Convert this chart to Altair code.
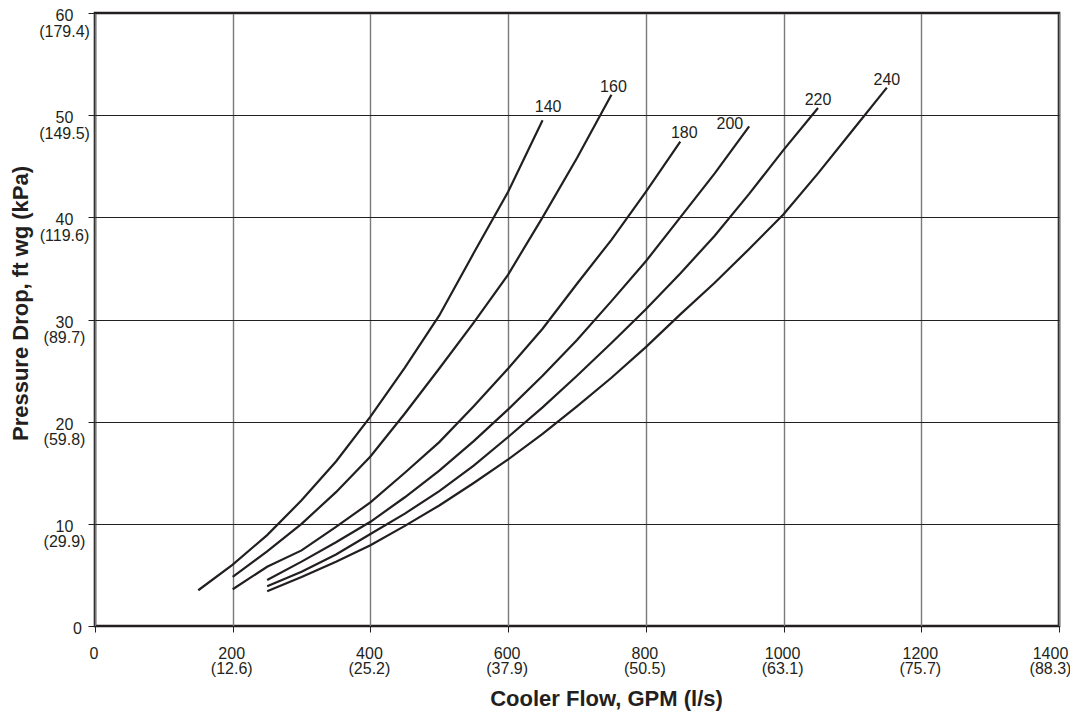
import altair as alt
import pandas as pd

# ---- data ----
series_names = ["140", "160", "180", "200", "220", "240"]

gpm_140 = [150, 200, 250, 300, 350, 400, 450, 500, 550, 600, 650]
dp_140 = [3.5, 6.0, 8.9, 12.3, 16.1, 20.5, 25.3, 30.4, 36.5, 42.5, 49.5]

gpm_160 = [200, 250, 300, 350, 400, 450, 500, 550, 600, 650, 700, 750]
dp_160 = [4.8, 7.3, 10.0, 13.1, 16.6, 20.8, 25.2, 29.7, 34.4, 40.0, 45.8, 52.0]

gpm_180 = [200, 250, 300, 350, 400, 450, 500, 550, 600, 650, 700, 750, 800, 850]
dp_180 = [3.6, 5.8, 7.4, 9.7, 12.1, 15.0, 18.0, 21.5, 25.2, 29.1, 33.5, 37.8, 42.5, 47.4]

gpm_200 = [250, 300, 350, 400, 450, 500, 550, 600, 650, 700, 750, 800, 850, 900, 950]
dp_200 = [4.5, 6.3, 8.2, 10.2, 12.6, 15.2, 18.1, 21.2, 24.5, 28.0, 31.8, 35.7, 40.0, 44.3, 48.9]

gpm_220 = [250, 300, 350, 400, 450, 500, 550, 600, 650, 700, 750, 800, 850, 900, 950, 1000, 1050]
dp_220 = [3.9, 5.3, 7.0, 9.0, 11.0, 13.2, 15.7, 18.5, 21.4, 24.5, 27.7, 31.0, 34.5, 38.2, 42.3, 46.6, 50.7]

gpm_240 = [250, 300, 350, 400, 450, 500, 550, 600, 650, 700, 750, 800, 850, 900, 950, 1000, 1050, 1100, 1150]
dp_240 = [3.4, 4.8, 6.3, 7.9, 9.8, 11.8, 14.0, 16.3, 18.8, 21.5, 24.3, 27.3, 30.5, 33.6, 36.9, 40.3, 44.3, 48.5, 52.7]

x_ticks = [0, 200, 400, 600, 800, 1000, 1200, 1400]
x_si = ["", "12.6", "25.2", "37.9", "50.5", "63.1", "75.7", "88.3"]
y_ticks = [0, 10, 20, 30, 40, 50, 60]
y_si = ["", "29.9", "59.8", "89.7", "119.6", "149.5", "179.4"]

# ---- build table ----
all_x = [gpm_140, gpm_160, gpm_180, gpm_200, gpm_220, gpm_240]
all_y = [dp_140, dp_160, dp_180, dp_200, dp_220, dp_240]
rows = []
for name, xs, ys in zip(series_names, all_x, all_y):
    for i, (a, b) in enumerate(zip(xs, ys)):
        rows.append({"series": name, "gpm": a, "dp": b, "order": i})
df = pd.DataFrame(rows)
ends = df.loc[df.groupby("series")["order"].idxmax()].reset_index(drop=True)

INK = "#231f20"
FONT = "Liberation Sans"


def arr(values):
    return "[" + ",".join(repr(v) if isinstance(v, str) else str(v) for v in values) + "]"


x_label_expr = (
    "datum.value == 0 ? '0' : [datum.label, '(' + "
    + arr(x_si) + "[indexof(" + arr(x_ticks) + ", datum.value)] + ')']"
)
y_label_expr = (
    "datum.value == 0 ? '0' : [datum.label, '(' + "
    + arr(y_si) + "[indexof(" + arr(y_ticks) + ", datum.value)] + ')']"
)

x_axis = alt.Axis(
    values=x_ticks, format="d", labelExpr=x_label_expr,
    labelFont=FONT, labelFontSize=16, labelColor=INK,
    labelPadding=13.5, labelLineHeight=15, labelFlush=False, labelOverlap=False,
    labelOffset={"condition": {"test": "datum.value == 1400", "value": -9}, "value": -1.5},
    tickSize=6, tickColor=INK, tickWidth=1,
    grid=True, gridColor="#7a7a7a", gridWidth=1.4,
    domain=False,
    title="Cooler Flow, GPM (l/s)", titleFont=FONT, titleFontSize=22,
    titleFontWeight="bold", titleColor=INK, titleX=511, titleY=79,
    titleBaseline="alphabetic", titleAlign="center",
)
y_axis = alt.Axis(
    values=y_ticks, format="d", labelExpr=y_label_expr,
    labelFont=FONT, labelFontSize=16, labelColor=INK,
    labelAlign="center", labelBaseline="top", labelOffset=-5.4,
    labelPadding={"condition": {"test": "datum.value == 0", "value": 11}, "value": 24},
    labelLineHeight=15.5, labelFlush=False, labelOverlap=False,
    tickSize=7, tickColor=INK, tickWidth=1,
    grid=True, gridColor=INK, gridWidth=1.2,
    domain=False,
    title="Pressure Drop, ft wg (kPa)", titleFont=FONT, titleFontSize=22,
    titleFontWeight="bold", titleColor=INK, titleX=-75, titleY=290,
    titleBaseline="middle", titleAlign="center", titleAngle=270,
)

lines = alt.Chart(df).mark_line(color=INK, strokeWidth=2.2, interpolate="linear").encode(
    x=alt.X("gpm:Q", scale=alt.Scale(domain=[0, 1400], nice=False, zero=False), axis=x_axis),
    y=alt.Y("dp:Q", scale=alt.Scale(domain=[0, 60], nice=False), axis=y_axis),
    detail="series:N",
    order="order:Q",
)

label_offsets = {
    "140": (5.6, -8.3),
    "160": (2, -2.6),
    "180": (4, -4),
    "200": (-19.3, 2.7),
    "220": (0, -3.3),
    "240": (0, -2.7),
}

layers = [lines]
for name in series_names:
    dx, dy = label_offsets[name]
    layers.append(
        alt.Chart(ends)
        .transform_filter(alt.datum.series == name)
        .mark_text(dx=dx, dy=dy, align="center", baseline="alphabetic",
                   font=FONT, fontSize=16, color=INK)
        .encode(x="gpm:Q", y="dp:Q", text="series:N")
    )

chart = (
    alt.layer(*layers)
    .properties(
        width=964, height=613,
        autosize=alt.AutoSizeParams(type="none"),
        padding={"left": 87, "top": 5, "right": 11, "bottom": 85},
        background="white",
    )
    .configure_view(stroke=INK, strokeWidth=2.6)
)

chart.save("out.html", embed_options={"renderer": "svg", "actions": False})
